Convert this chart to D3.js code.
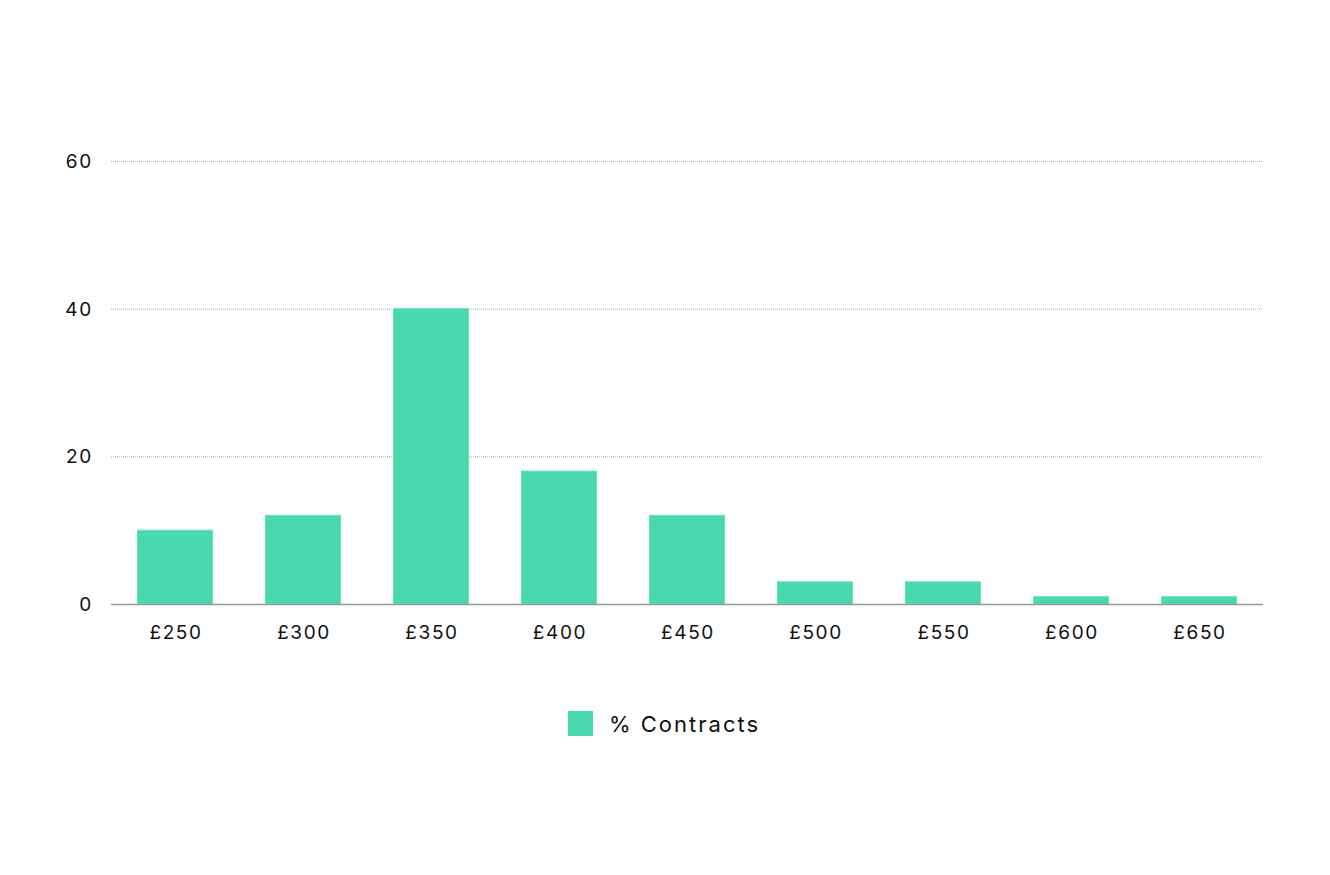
<!DOCTYPE html>
<html>
<head>
<meta charset="utf-8">
<script src="https://cdn.jsdelivr.net/npm/d3@7"></script>
<style>
  body { margin: 0; background: #fff; }
  text { font-family: "Inter", "Open Sans", sans-serif; fill: #111; }
</style>
</head>
<body>
<svg id="chart" width="1330" height="875"></svg>
<script>
const categories = ['£250', '£300', '£350', '£400', '£450', '£500', '£550', '£600', '£650'];
const contracts = [10, 12, 40, 18, 12, 3, 3, 1, 1];
const yTicks = [0, 20, 40, 60];
const seriesName = '% Contracts';

const width = 1330, height = 875;
const margin = { top: 161, right: 67, bottom: 271, left: 111 };
const barColor = '#48d9ae';

const svg = d3.select('#chart');

const x = d3.scaleBand()
    .domain(categories)
    .range([margin.left, width - margin.right])
    .paddingInner(0.414)
    .paddingOuter(0.207);

const y = d3.scaleLinear()
    .domain([0, 60])
    .range([height - margin.bottom, margin.top]);

// gridlines
svg.append('g')
    .selectAll('line')
    .data(yTicks.filter(d => d > 0))
    .join('line')
    .attr('x1', margin.left)
    .attr('x2', width - margin.right - 1)
    .attr('y1', d => y(d) + 0.5)
    .attr('y2', d => y(d) + 0.5)
    .attr('stroke', '#aaa')
    .attr('stroke-width', 1)
    .attr('stroke-dasharray', '1,1');

// y labels
svg.append('g')
    .selectAll('text')
    .data(yTicks)
    .join('text')
    .attr('x', margin.left - 18)
    .attr('y', d => y(d))
    .attr('dy', '0.36em')
    .attr('text-anchor', 'end')
    .style('font-size', '19px')
    .style('letter-spacing', '1.7px')
    .text(d => d);

// bars
svg.append('g')
    .selectAll('rect')
    .data(contracts)
    .join('rect')
    .attr('x', (d, i) => x(categories[i]))
    .attr('y', d => y(d))
    .attr('width', x.bandwidth())
    .attr('height', d => y(0) - y(d))
    .attr('fill', barColor)
    .attr('stroke', '#5fe3bd')
    .attr('stroke-width', 1);

// x axis line
svg.append('line')
    .attr('x1', margin.left)
    .attr('x2', width - margin.right)
    .attr('y1', y(0) + 0.5)
    .attr('y2', y(0) + 0.5)
    .attr('stroke', '#999')
    .attr('stroke-width', 1.3);

// x labels
svg.append('g')
    .selectAll('text')
    .data(categories)
    .join('text')
    .attr('x', d => x(d) + x.bandwidth() / 2 + 1)
    .attr('y', y(0) + 28)
    .attr('dy', '0.36em')
    .attr('text-anchor', 'middle')
    .style('font-size', '19px')
    .style('letter-spacing', '1.6px')
    .text(d => d);

// legend
const legend = svg.append('g').attr('transform', 'translate(568,711)');
legend.append('rect')
    .attr('width', 25)
    .attr('height', 25)
    .attr('fill', barColor);
legend.append('text')
    .attr('x', 41)
    .attr('y', 13)
    .attr('dy', '0.36em')
    .style('font-size', '22px')
    .style('letter-spacing', '2px')
    .text(seriesName);
</script>
</body>
</html>
